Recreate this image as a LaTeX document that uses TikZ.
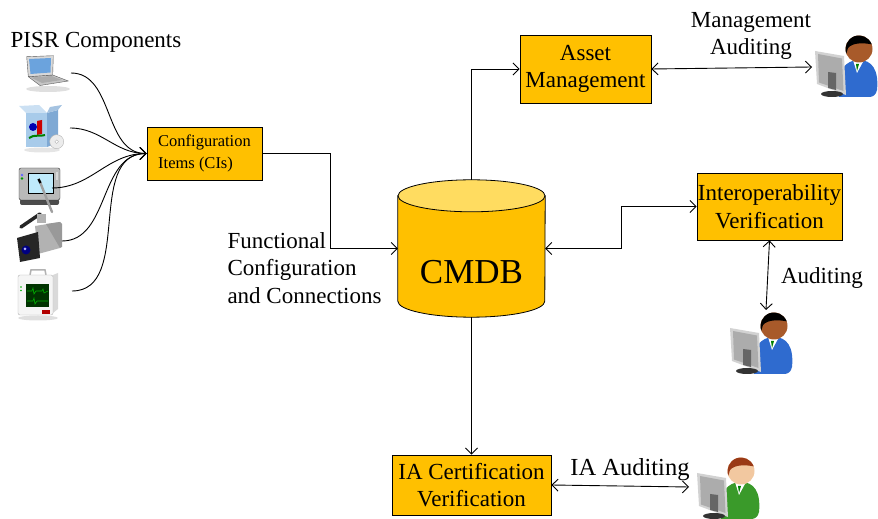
\documentclass[tikz,border=0pt]{standalone}
\usepackage{fontspec}
\setmainfont{Liberation Serif}
\usetikzlibrary{arrows.meta,positioning}
\definecolor{cigold}{HTML}{FFC000}
\definecolor{citop}{HTML}{FFDC60}
\definecolor{shirtblue}{HTML}{2F6BCF}
\definecolor{shirtgreen}{HTML}{3A9A2A}
\definecolor{skindark}{HTML}{A85A2A}
\definecolor{skinlight}{HTML}{F2C8A0}
\definecolor{hairred}{HTML}{9A3A16}
\definecolor{boxfront}{HTML}{A8CBEA}
\definecolor{boxside}{HTML}{7FA9D4}
\tikzstyle{block} = [rectangle, draw, fill=cigold, line width=0.8pt, align=center,
    inner sep=1pt, font=\fontsize{23}{27.5}\selectfont]
\tikzstyle{dbbox} = [rectangle, minimum width=147pt, minimum height=137pt, inner sep=0pt]
\tikzstyle{caption} = [align=center, font=\fontsize{23}{27.5}\selectfont]
\tikzstyle{line} = [draw, line width=0.9pt, -{Straight Barb[length=6pt,width=12pt]}]
\tikzstyle{both} = [draw, line width=0.9pt,
    {Straight Barb[length=6pt,width=12pt]}-{Straight Barb[length=6pt,width=12pt]}]

% person sitting behind a monitor: position, shirt, skin, hair
\newcommand{\auditor}[4]{%
  \begin{scope}[shift={#1}]
    \fill[#2] (27,3) .. controls (23,30) and (34,40) .. (47,40)
      .. controls (60,40) and (67,30) .. (65,10) .. controls (64,5) and (61,3) .. (57,3) -- cycle;
    \fill[white] (41,40) -- (52,40) -- (45,27) -- cycle;
    \fill[green!50!black] (44,36) -- (47,36) -- (45,29) -- cycle;
    \fill[#3] (47,51) circle (13.5);
    \fill[#4] (47,51) ++(200:13.5) arc[start angle=200, end angle=20, radius=13.5]
      .. controls (53,57) and (41,58) .. (36,52) -- cycle;
    \fill[gray!35] (3,49) -- (32,44) -- (34,5) -- (5,16) -- cycle;
    \fill[gray!65] (6,46) -- (30,41.5) -- (31.5,9) -- (7,17.5) -- cycle;
    \fill[gray!80!black] (16,28) -- (24,27) -- (24,10) -- (16,12) -- cycle;
    \fill[gray!40!black] (20,6) ellipse[x radius=11, y radius=3];
  \end{scope}}

\begin{document}
\begin{tikzpicture}[x=1pt, y=1pt]
    \useasboundingbox (0,0) rectangle (878,519);

    % PISR component icons
    \node [caption] (pisr) at (96,477) {PISR Components};
    % laptop
    \fill[gray!25] (48,430) ellipse[x radius=22, y radius=3];
    \filldraw[fill=gray!45, draw=gray!70!black, line width=0.4pt] (28.3,442.3) -- (52.7,444) -- (68.3,438) -- (40,433.5) -- cycle;
    \fill[gray!65] (31,441.5) -- (51.5,443) -- (62,439) -- (42,436) -- cycle;
    \filldraw[fill=gray!30, draw=gray!70!black, line width=0.4pt] (26.7,462.3) -- (53.3,463.3) -- (52.7,444) -- (28.3,442.3) -- cycle;
    \fill[cyan!60!blue!60] (29,460) -- (51,461) -- (50.5,446.5) -- (30.5,445) -- cycle;
    % software box
    \fill[gray!20] (42,369) ellipse[x radius=18, y radius=2.5];
    \fill[boxside] (47,372) -- (58,376) -- (58,409) -- (47,406) -- cycle;
    \fill[boxfront] (26,372) rectangle (47,406);
    \fill[boxfront!60] (26,406) -- (19,413) -- (39,414) -- (47,406) -- cycle;
    \fill[boxside!70] (47,406) -- (58,409) -- (62,414) -- (50,412) -- cycle;
    \fill[blue!70!black] (33,392) circle (4);
    \fill[red!80!black] (37,384) -- (42,385) -- (42,399) -- (37,398) -- cycle;
    \draw[green!50!black, line width=2pt] (29,381) .. controls (34,385) and (40,382) .. (45,384);
    \filldraw[fill=gray!15, draw=gray!60] (56.7,377.3) circle (7);
    \filldraw[fill=white, draw=gray!60] (56.7,377.3) circle (1.8);
    % tablet
    \fill[gray!60!black, rounded corners=2pt] (20,314) rectangle (59,320);
    \filldraw[fill=gray!55, draw=gray!40!black, rounded corners=2pt, line width=0.4pt] (19,319) rectangle (60,351);
    \filldraw[fill=cyan!25, draw=black, line width=0.6pt] (28,326) rectangle (53,346);
    \fill[blue!60] (22,344) circle (1.3);
    \fill[green!60!black] (22,340.5) circle (1.3);
    \fill[gray!30] (55.5,339) rectangle (58,347);
    \draw[line width=2.4pt, gray!75, line cap=round] (40,337) -- (52,307);
    \draw[line width=2.4pt, black] (38.5,340) -- (40.5,336);
    % video camera
    \draw[line width=3.5pt, gray!30!black, line cap=round] (21,292) -- (40,305);
    \fill[gray!60] (37,296) rectangle (46,305);
    \fill[gray!60] (35,293) -- (60,297) -- (60,271) -- (38,265) -- cycle;
    \fill[gray!80] (46,295) -- (60,297) -- (62,295) -- (62,272) -- (60,271) -- cycle;
    \fill[black!85] (17,281) -- (38,287) -- (40,261) -- (20,257) -- cycle;
    \fill[blue!50!black] (26,269) circle (4.5);
    \fill[blue!30] (25,270) circle (1.5);
    % patient monitor
    \fill[gray!25] (38,201) ellipse[x radius=20, y radius=2.5];
    \draw[gray!60, line width=1.5pt] (30,244) -- (31,249) -- (45,249) -- (46,244);
    \fill[gray!30] (53,206) -- (58,210) -- (58,246) -- (53,244) -- cycle;
    \filldraw[fill=gray!8, draw=gray!60, rounded corners=2pt] (18,204) rectangle (53,244);
    \fill[green!20!black] (26,212) rectangle (49,235);
    \draw[green!70!black, line width=0.6pt] (27,228) -- (32,228) -- (33,231) -- (34,225) -- (36,228) -- (42,228) -- (43,230) -- (44,226) -- (48,228);
    \draw[green!70!black, line width=0.6pt] (27,218) -- (33,218) -- (34,221) -- (35,215) -- (37,218) -- (48,218);
    \fill[red!70!black] (42,205) rectangle (50,208.5);
    \fill[green!70!black] (21,232) circle (0.9);
    \fill[green!70!black] (21,228.5) circle (0.9);

    \coordinate (laptop) at (71,446);
    \coordinate (software) at (70,391);
    \coordinate (tablet) at (52,331);
    \coordinate (camera) at (62,278);
    \coordinate (monitor) at (72,228);

    % blocks
    \node [block, minimum width=115pt, minimum height=53pt, align=left,
        font=\fontsize{16.5}{22}\selectfont] (cis) at (204.5,365.5) {Configuration\\Items (CIs)};
    \node [block, minimum width=131pt, minimum height=68pt] (asset) at (585.5,450) {Asset\\Management};
    \node [block, minimum width=145pt, minimum height=67pt] (interop) at (769.5,312.5) {Interoperability\\Verification};
    \node [block, minimum width=159pt, minimum height=60pt] (iacert) at (471.5,34) {IA Certification\\Verification};

    % database cylinder
    \node [dbbox] (cmdb) at (471.5,270.5) {};
    \draw[line width=0.8pt, fill=cigold] ([yshift=-16pt]cmdb.north west) -- ([yshift=16pt]cmdb.south west)
        arc[start angle=180, end angle=360, x radius=73.5, y radius=16] -- ([yshift=-16pt]cmdb.north east) -- cycle;
    \draw[line width=0.8pt, fill=citop] ([yshift=-16pt]cmdb.north) ellipse[x radius=73.5, y radius=16];
    \node [font=\fontsize{35}{40}\selectfont] (cmdblabel) at (471.5,247) {CMDB};

    % auditors
    \auditor{(812,419)}{shirtblue}{skindark}{black}
    \auditor{(727,142)}{shirtblue}{skindark}{black}
    \auditor{(694,-3)}{shirtgreen}{skinlight}{hairred}
    \coordinate (mgr) at (812,452);
    \coordinate (auditor) at (766,209);
    \coordinate (iaaud) at (689,32);

    % labels
    \node [caption, align=left, anchor=west] (func) at (224,251) {Functional\\Configuration\\and Connections};
    \node [caption] (mgmtlabel) at (751,483) {Management\\Auditing};
    \node [caption] (auditlabel) at (822,241) {Auditing};
    \node [caption, font=\fontsize{24.5}{28}\selectfont] (ialabel) at (630,49) {IA Auditing};

    % connectors
    \draw [line] (laptop) to[out=0, in=180] (cis.west);
    \draw [line] (software) to[out=0, in=180] (cis.west);
    \draw [line] (tablet) to[out=0, in=180] (cis.west);
    \draw [line] (camera) to[out=0, in=180] (cis.west);
    \draw [line] (monitor) to[out=0, in=180] (cis.west);
    \draw [line] (cis.east) -- ++(68,0) |- (cmdb.west);
    \draw [line] (cmdb.north) |- (asset.west);
    \draw [both] (asset.east) -- (mgr);
    \draw [both] (cmdb.east) -- ++(76,0) |- (interop.west);
    \draw [both] (interop.south) -- (auditor);
    \draw [line] (cmdb.south) -- (iacert.north);
    \draw [both] (iacert.east) -- (iaaud);
\end{tikzpicture}
\end{document}
